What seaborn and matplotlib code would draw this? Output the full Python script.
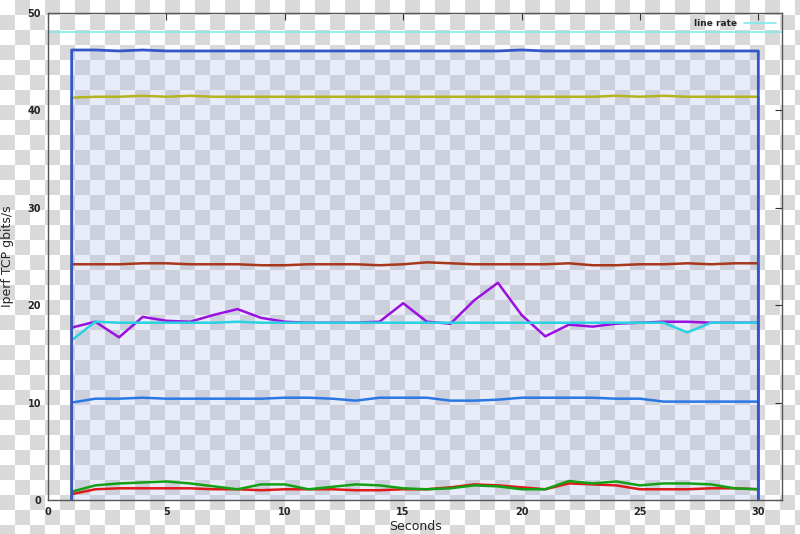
import numpy as np
import pandas as pd
import matplotlib
matplotlib.use("Agg")
import matplotlib.pyplot as plt
import seaborn as sns

# ------------------------------------------------------------
# data (seconds 1..30)
# ------------------------------------------------------------
seconds = list(range(1, 31))

total = [46.2, 46.2, 46.1, 46.2, 46.1, 46.1, 46.1, 46.1, 46.1, 46.1,
         46.1, 46.1, 46.1, 46.1, 46.1, 46.1, 46.1, 46.1, 46.1, 46.2,
         46.1, 46.1, 46.1, 46.1, 46.1, 46.1, 46.1, 46.1, 46.1, 46.1]
olive = [41.3, 41.4, 41.4, 41.5, 41.4, 41.5, 41.4, 41.4, 41.4, 41.4,
         41.4, 41.4, 41.4, 41.4, 41.4, 41.4, 41.4, 41.4, 41.4, 41.4,
         41.4, 41.4, 41.4, 41.5, 41.4, 41.5, 41.4, 41.4, 41.4, 41.4]
brown = [24.2, 24.2, 24.2, 24.3, 24.3, 24.2, 24.2, 24.2, 24.1, 24.1,
         24.2, 24.2, 24.2, 24.1, 24.2, 24.4, 24.3, 24.2, 24.2, 24.2,
         24.2, 24.3, 24.1, 24.1, 24.2, 24.2, 24.3, 24.2, 24.3, 24.3]
purple = [17.7, 18.3, 16.7, 18.8, 18.4, 18.3, 19.0, 19.6, 18.7, 18.3,
          18.2, 18.2, 18.2, 18.3, 20.2, 18.3, 18.1, 20.5, 22.3, 19.0,
          16.8, 18.0, 17.8, 18.1, 18.2, 18.3, 18.3, 18.2, 18.2, 18.2]
cyan = [16.4, 18.3, 18.2, 18.2, 18.2, 18.2, 18.2, 18.3, 18.2, 18.2,
        18.2, 18.2, 18.2, 18.2, 18.2, 18.2, 18.2, 18.2, 18.2, 18.2,
        18.2, 18.2, 18.2, 18.2, 18.2, 18.2, 17.2, 18.2, 18.2, 18.2]
blue = [10.0, 10.4, 10.4, 10.5, 10.4, 10.4, 10.4, 10.4, 10.4, 10.5,
        10.5, 10.4, 10.2, 10.5, 10.5, 10.5, 10.2, 10.2, 10.3, 10.5,
        10.5, 10.5, 10.5, 10.4, 10.4, 10.1, 10.1, 10.1, 10.1, 10.1]
green = [0.85, 1.5, 1.7, 1.8, 1.9, 1.7, 1.4, 1.1, 1.6, 1.6,
         1.1, 1.35, 1.6, 1.5, 1.2, 1.1, 1.2, 1.5, 1.4, 1.1,
         1.1, 1.95, 1.7, 1.9, 1.5, 1.7, 1.7, 1.6, 1.2, 1.1]
red = [0.6, 1.1, 1.2, 1.2, 1.2, 1.2, 1.1, 1.1, 1.0, 1.1,
       1.1, 1.1, 1.0, 1.0, 1.1, 1.1, 1.3, 1.6, 1.5, 1.3,
       1.1, 1.7, 1.6, 1.5, 1.1, 1.1, 1.1, 1.2, 1.2, 1.1]
line_rate = 48.0

series = {"red": red, "green": green, "blue": blue, "purple": purple,
          "cyan": cyan, "brown": brown, "olive": olive}
colors = {"red": "#e01a1a", "green": "#14a014", "blue": "#2a78e4",
          "purple": "#9a10e0", "cyan": "#28d2e0", "brown": "#a8381c",
          "olive": "#b4b41e"}

# each flow starts and ends at 0 (vertical edges at t=1 and t=30)
rows = []
for name, vals in series.items():
    xs = [seconds[0]] + seconds + [seconds[-1]]
    ys = [0.0] + vals + [0.0]
    for i, (x, y) in enumerate(zip(xs, ys)):
        rows.append({"flow": name, "order": i, "t": x, "gbps": y})
df = pd.DataFrame(rows)

tot_x = [seconds[0]] + seconds + [seconds[-1]]
tot_y = [0.0] + total + [0.0]

# ------------------------------------------------------------
# plot
# ------------------------------------------------------------
sns.set_style("white")
plt.rcParams["font.family"] = ["DejaVu Sans"]

fig = plt.figure(figsize=(8, 5.34), dpi=100)

# transparency checkerboard behind everything
bg = fig.add_axes([0, 0, 1, 1], zorder=-10)
cell = 15
board = (np.indices((534 // cell + 2, 800 // cell + 2)).sum(0) % 2)
bg.imshow(board, cmap=matplotlib.colors.ListedColormap(["#ffffff", "#d9d9d9"]),
          extent=(0, board.shape[1] * cell, board.shape[0] * cell, 0),
          interpolation="nearest")
bg.set_xlim(0, 800)
bg.set_ylim(534, 0)
bg.axis("off")

ax = fig.add_axes([0.06, 0.0637, 0.9175, 0.912])
ax.set_facecolor("none")

ax.fill_between(tot_x, tot_y, color="#aab9e9", alpha=0.27, linewidth=0, zorder=1)

sns.lineplot(data=df, x="t", y="gbps", hue="flow", units="flow",
             estimator=None, sort=False, palette=colors, linewidth=1.8,
             legend=False, ax=ax, zorder=3)

ax.plot(tot_x, tot_y, color="#3456c8", linewidth=2.0, zorder=4)
ax.axhline(line_rate, color="#80eaea", linewidth=1.2, zorder=2, label="line rate")

ax.set_xlim(0, 31)
ax.set_ylim(0, 50)
ax.set_xticks(range(0, 31, 5))
ax.set_yticks(range(0, 51, 10))
ax.tick_params(direction="in", length=5, width=0.8, top=True, right=True,
               labelsize=7, color="#333333", pad=5)
for lab in ax.get_xticklabels() + ax.get_yticklabels():
    lab.set_fontweight("bold")
for sp in ax.spines.values():
    sp.set_color("#555555")
    sp.set_linewidth(1.0)

ax.set_xlabel("Seconds", fontsize=9, labelpad=2)
ax.set_ylabel("Iperf TCP gbits/s", fontsize=9, labelpad=10)

leg = ax.legend(loc="upper right", frameon=False, fontsize=6.5,
                handlelength=3.5, markerfirst=False, borderaxespad=0.3)
for t in leg.get_texts():
    t.set_fontweight("bold")

fig.savefig("out.png", dpi=100)
